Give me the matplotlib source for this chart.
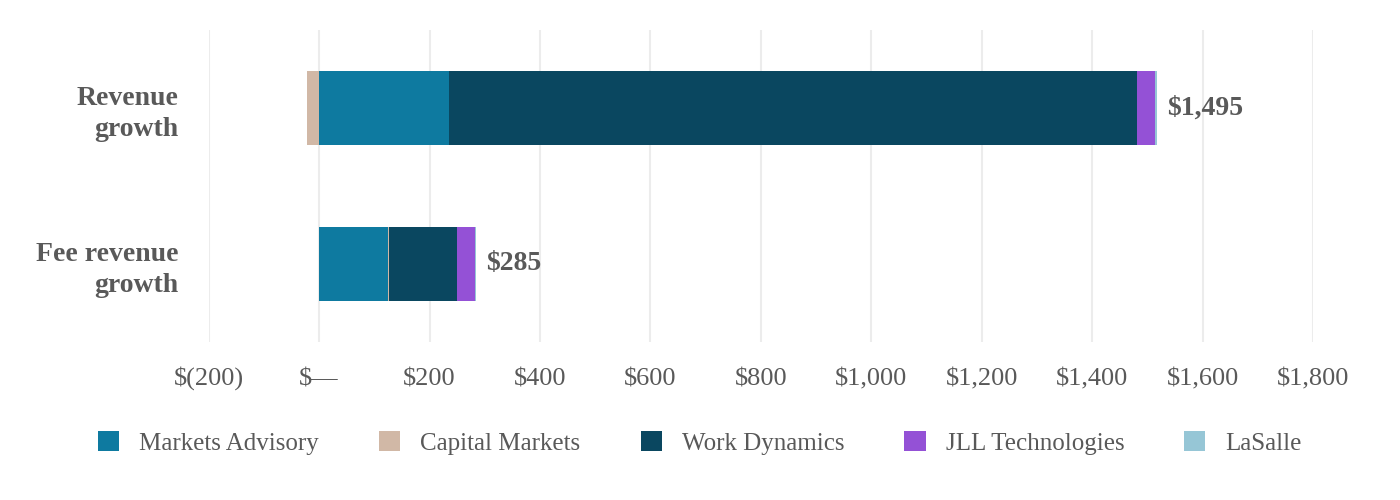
import matplotlib
matplotlib.use("Agg")
from matplotlib import pyplot as plt
from matplotlib.ticker import FuncFormatter

categories = ["Revenue\ngrowth", "Fee revenue\ngrowth"]
segments = ["Markets Advisory", "Capital Markets", "Work Dynamics", "JLL Technologies", "LaSalle"]
markets_advisory = [235, 124]
capital_markets = [-22, 2]
work_dynamics = [1246, 123]
jll_technologies = [33, 33]
lasalle = [3, 3]
totals = [1495, 285]
colors = ["#0e7aa0", "#d1b8a6", "#0a4760", "#9451d6", "#96c6d6"]

plt.rcParams['font.family'] = ['Liberation Serif', 'DejaVu Serif']
grey = "#595959"

fig = plt.figure(figsize=(14, 5), dpi=100)
ax = fig.add_axes([0.149, 0.316, 0.789, 0.624])

series = [markets_advisory, capital_markets, work_dynamics, jll_technologies, lasalle]
y = list(range(len(categories)))
pos_left = [0.0] * len(categories)
neg_left = [0.0] * len(categories)
for name, vals, c in zip(segments, series, colors):
    lefts = []
    for i, v in enumerate(vals):
        if v >= 0:
            lefts.append(pos_left[i])
            pos_left[i] += v
        else:
            neg_left[i] += v
            lefts.append(neg_left[i])
    ax.barh(y, [abs(v) for v in vals], left=lefts, height=0.48, color=c,
            label=name, zorder=3)

# total labels to the right of the stacks
for i, t in enumerate(totals):
    ax.text(pos_left[i] + 18, i, "${:,}".format(t), va='center', ha='left',
            fontsize=20, fontweight='bold', color=grey)

ax.set_xlim(-200, 1800)
ax.set_ylim(1.5, -0.5)
ax.set_xticks(range(-200, 1801, 200))


def money(v, pos):
    if v == 0:
        return "$\u2014"
    if v < 0:
        return "$({:,.0f})".format(-v)
    return "${:,.0f}".format(v)


ax.xaxis.set_major_formatter(FuncFormatter(money))
ax.set_yticks(y)
ax.set_yticklabels(categories, fontsize=20, fontweight='bold', color=grey,
                   linespacing=1.3)
ax.tick_params(axis='x', labelsize=19, labelcolor=grey, length=0, pad=31)
ax.tick_params(axis='y', length=0, pad=22)
for lbl in ax.get_xticklabels():
    lbl.set_verticalalignment('baseline')
for lbl in ax.get_yticklabels():
    lbl.set_horizontalalignment('right')
    lbl.set_multialignment('right')

ax.grid(axis='x', color='#ececec', linewidth=1.5, zorder=0)
for s in ax.spines.values():
    s.set_visible(False)

fig.legend(loc='center', bbox_to_anchor=(0.5, 0.114), ncol=5, frameon=False,
           fontsize=18, handlelength=0.85, handleheight=0.85, columnspacing=2.4,
           handletextpad=0.8, labelcolor=grey)

fig.savefig("out.png", dpi=100)
